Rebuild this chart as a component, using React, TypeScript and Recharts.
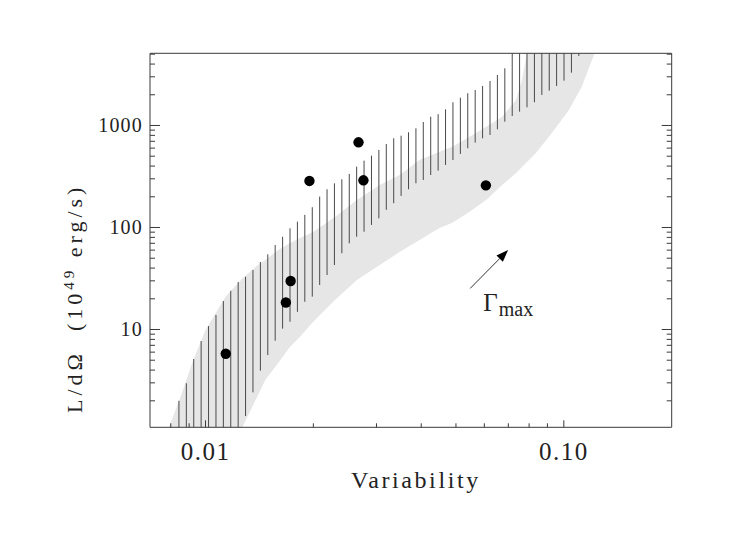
import {
  ComposedChart,
  Area,
  Scatter,
  XAxis,
  YAxis,
  ReferenceLine,
  ReferenceDot,
} from 'recharts';

// hatched band: one vertical stroke per x, from low to high
const hatchX = [
  0.00843, 0.008841, 0.009272, 0.009723, 0.010198, 0.010695, 0.011215, 0.011762, 0.012335, 0.012935,
  0.013566, 0.014228, 0.014921, 0.015648, 0.016411, 0.017211, 0.01805, 0.018929, 0.01986, 0.020828,
  0.021836, 0.022898, 0.024017, 0.025188, 0.026412, 0.0277, 0.029052, 0.030465, 0.031955, 0.033513,
  0.035146, 0.036861, 0.03866, 0.040532, 0.04251, 0.044585, 0.046761, 0.04904, 0.051433, 0.053937,
  0.056569, 0.05933, 0.06223, 0.065255, 0.068438, 0.071779, 0.07525, 0.078921, 0.08278, 0.08682,
  0.091051, 0.095459, 0.10012, 0.105, 0.11011,
];
const hatchLow = [
  0.2, 0.22, 0.25, 0.28, 0.32, 0.37, 0.44, 0.55, 0.82, 1.42,
  2.42, 3.95, 5.62, 7.77, 10.2, 11.9, 14.9, 18.7, 21.0, 27.3,
  34.2, 42.9, 55.9, 70.0, 81.2, 90.9, 106, 123, 149, 173,
  204, 237, 271, 292, 327, 361, 410, 459, 526, 598,
  679, 749, 807, 918, 1090, 1239, 1365, 1508, 1689, 1991,
  2194, 2439, 2750, 3293, 4801,
];
const hatchHigh = [
  2.0, 2.97, 5.14, 7.71, 10.8, 13.9, 19.0, 24.0, 29.2, 32.9,
  38.3, 45.9, 54.6, 67.4, 81.2, 98.2, 114, 133, 158, 201,
  237, 271, 297, 335, 395, 452, 506, 575, 659, 749,
  794, 858, 939, 1082, 1220, 1291, 1441, 1689, 1873, 2069,
  2228, 2439, 2731, 3126, 3638, 5500, 6500, 7500, 8500, 9500,
  10500, 11500, 12500, 13500, 14500,
];

// grey band
const bandX = [
  0.007906, 0.008522, 0.009203, 0.01, 0.01137, 0.01267, 0.01394, 0.01468, 0.01595, 0.01722,
  0.01836, 0.01995, 0.02297, 0.02644, 0.03063, 0.03481, 0.03956, 0.04496, 0.04886, 0.05446,
  0.06072, 0.06727, 0.07356, 0.07643, 0.07892, 0.0836, 0.09262, 0.1033, 0.1122, 0.1189, 0.122,
];
const bandLow = [
  0.136, 0.19, 0.267, 0.42, 0.705, 1.1, 2.19, 3.2, 4.69, 6.78,
  8.5, 11.85, 19.5, 30.6, 42.9, 57.5, 75.4, 98.9, 111, 142,
  186, 261, 342, 392, 439, 538, 845, 1419, 2401, 4101, 5138,
];
const bandHigh = [
  1.1, 2.19, 4.8, 9.89, 21.0, 31.6, 42.4, 48.0, 60.2, 70.5,
  78.9, 90.3, 127, 186, 261, 327, 459, 554, 620, 772,
  973, 1220, 1778, 2794, 5138, 10800, 20000, 40000, 60000, 80000, 100000,
];

// measured sources
const pointX = [0.01139, 0.01676, 0.01728, 0.0195, 0.02673, 0.02759, 0.0606];
const pointY = [5.79, 18.4, 29.9, 286, 684, 290, 259];

// Gamma_max arrow: tail, tip, label anchor
const arrowX = [0.0548, 0.0699];
const arrowY = [25.3, 60.1];
const gammaLabelAt = { x: 0.0596, y: 15.2 };

const X_MAJOR = [0.01, 0.1];
const X_TICK_LABELS = ['0.01', '0.10'];
const X_MINOR = [0.008, 0.009, 0.02, 0.03, 0.04, 0.05, 0.06, 0.07, 0.08, 0.09];
const Y_MAJOR = [10, 100, 1000];
const Y_TICK_LABELS = ['10', '100', '1000'];
const Y_MINOR = [
  2, 3, 4, 5, 6, 7, 8, 9, 20, 30, 40, 50, 60, 70, 80, 90,
  200, 300, 400, 500, 600, 700, 800, 900, 2000, 3000, 4000, 5000,
];

const X_DOMAIN = [0.007, 0.2];
const Y_DOMAIN = [1.1, 5100];

const FONT = "'Liberation Serif', 'Times New Roman', serif";
const AXIS = '#3a3a3a';
const INK = '#222';

const bandData = bandX.map((x, i) => ({ x, band: [bandLow[i], bandHigh[i]] }));
const pointData = pointX.map((x, i) => ({ x, y: pointY[i] }));
const xTicks = [...X_MAJOR, ...X_MINOR].sort((a, b) => a - b);
const yTicks = [...Y_MAJOR, ...Y_MINOR].sort((a, b) => a - b);

function BottomTick(props: any) {
  const { x, y, payload } = props;
  const i = X_MAJOR.indexOf(payload.value);
  return (
    <g>
      <line x1={x} y1={y} x2={x} y2={y - (i >= 0 ? 7 : 4)} stroke={AXIS} />
      {i >= 0 && (
        <text x={x} y={y + 33} textAnchor="middle" fontSize={25} letterSpacing={1.5} fill={INK} fontFamily={FONT}>
          {X_TICK_LABELS[i]}
        </text>
      )}
    </g>
  );
}

function TopTick(props: any) {
  const { x, y, payload } = props;
  const len = X_MAJOR.includes(payload.value) ? 7 : 4;
  return <line x1={x} y1={y} x2={x} y2={y + len} stroke={AXIS} />;
}

function LeftTick(props: any) {
  const { x, y, payload } = props;
  const i = Y_MAJOR.indexOf(payload.value);
  return (
    <g>
      <line x1={x} y1={y} x2={x + (i >= 0 ? 10 : 5)} y2={y} stroke={AXIS} />
      {i >= 0 && (
        <text x={x - 7} y={y + 6.5} textAnchor="end" fontSize={20} letterSpacing={1.2} fill={INK} fontFamily={FONT}>
          {Y_TICK_LABELS[i]}
        </text>
      )}
    </g>
  );
}

function RightTick(props: any) {
  const { x, y, payload } = props;
  const len = Y_MAJOR.includes(payload.value) ? 10 : 5;
  return <line x1={x} y1={y} x2={x - len} y2={y} stroke={AXIS} />;
}

function XTitle(props: any) {
  const vb = props.viewBox;
  return (
    <text x={vb.x + vb.width / 2 + 5} y={vb.y + 61} textAnchor="middle" fontSize={24} letterSpacing={2.6} fill={INK} fontFamily={FONT}>
      Variability
    </text>
  );
}

function YTitle(props: any) {
  const vb = props.viewBox;
  const cx = vb.x + vb.width - 68;
  const cy = vb.y + vb.height / 2 + 58;
  return (
    <text x={cx} y={cy} transform={`rotate(-90, ${cx}, ${cy})`} textAnchor="middle" fontSize={22} letterSpacing={4} fill={INK} fontFamily={FONT} style={{ whiteSpace: 'pre' }}>
      {'L/dΩ  (10'}
      <tspan dy={-8} fontSize={15}>49</tspan>
      <tspan dy={8}>{' erg/s)'}</tspan>
    </text>
  );
}

function Arrow(props: any) {
  const { x1, y1, x2, y2 } = props;
  const dx = x2 - x1;
  const dy = y2 - y1;
  const len = Math.hypot(dx, dy) || 1;
  const ux = dx / len;
  const uy = dy / len;
  const head = 12;
  const half = 4.5;
  const bx = x2 - ux * head;
  const by = y2 - uy * head;
  return (
    <g>
      <line x1={x1} y1={y1} x2={bx} y2={by} stroke="#333" strokeWidth={1} />
      <polygon
        points={`${x2},${y2} ${bx - uy * half},${by + ux * half} ${bx + uy * half},${by - ux * half}`}
        fill="#000"
      />
    </g>
  );
}

function GammaLabel(props: any) {
  const { cx, cy } = props;
  return (
    <text x={cx} y={cy} fontSize={25} fill={INK} fontFamily={FONT}>
      Γ
      <tspan dy={5} dx={1} fontSize={20}>max</tspan>
    </text>
  );
}

function Dot(props: any) {
  return <circle cx={props.cx} cy={props.cy} r={5.2} fill="#000" />;
}

export default function App() {
  return (
    <ComposedChart
      width={731}
      height={518}
      margin={{ top: 44.3, right: 66.3, bottom: 58.7, left: 82 }}
      style={{ fontFamily: FONT }}
    >
      <XAxis
        xAxisId="b"
        dataKey="x"
        type="number"
        scale="log"
        domain={X_DOMAIN}
        allowDataOverflow
        ticks={xTicks}
        interval={0}
        tick={<BottomTick />}
        tickLine={false}
        tickSize={0}
        tickMargin={0}
        axisLine={{ stroke: AXIS }}
        height={40}
        label={XTitle}
      />
      <XAxis
        xAxisId="t"
        orientation="top"
        type="number"
        scale="log"
        domain={X_DOMAIN}
        allowDataOverflow
        ticks={xTicks}
        interval={0}
        tick={<TopTick />}
        tickLine={false}
        tickSize={0}
        tickMargin={0}
        axisLine={{ stroke: AXIS }}
        height={1}
      />
      <YAxis
        yAxisId="l"
        dataKey="y"
        type="number"
        scale="log"
        domain={Y_DOMAIN}
        allowDataOverflow
        ticks={yTicks}
        interval={0}
        tick={<LeftTick />}
        tickLine={false}
        tickSize={0}
        tickMargin={0}
        axisLine={{ stroke: AXIS }}
        width={60}
        label={YTitle}
      />
      <YAxis
        yAxisId="r"
        orientation="right"
        type="number"
        scale="log"
        domain={Y_DOMAIN}
        allowDataOverflow
        ticks={yTicks}
        interval={0}
        tick={<RightTick />}
        tickLine={false}
        tickSize={0}
        tickMargin={0}
        axisLine={{ stroke: AXIS }}
        width={1}
      />
      <Area
        xAxisId="b"
        yAxisId="l"
        data={bandData}
        dataKey="band"
        type="linear"
        stroke="none"
        fill="#e6e6e6"
        fillOpacity={1}
        isAnimationActive={false}
      />
      {hatchX.map((x, i) => (
        <ReferenceLine
          key={i}
          xAxisId="b"
          yAxisId="l"
          segment={[{ x, y: hatchLow[i] }, { x, y: hatchHigh[i] }]}
          stroke="#4a4a4a"
          strokeWidth={1}
          ifOverflow="hidden"
        />
      ))}
      <Scatter
        xAxisId="b"
        yAxisId="l"
        data={pointData}
        dataKey="y"
        shape={Dot}
        isAnimationActive={false}
      />
      <ReferenceLine
        xAxisId="b"
        yAxisId="l"
        segment={[{ x: arrowX[0], y: arrowY[0] }, { x: arrowX[1], y: arrowY[1] }]}
        shape={Arrow}
        ifOverflow="visible"
      />
      <ReferenceDot
        xAxisId="b"
        yAxisId="l"
        x={gammaLabelAt.x}
        y={gammaLabelAt.y}
        shape={GammaLabel}
        ifOverflow="visible"
      />
    </ComposedChart>
  );
}
